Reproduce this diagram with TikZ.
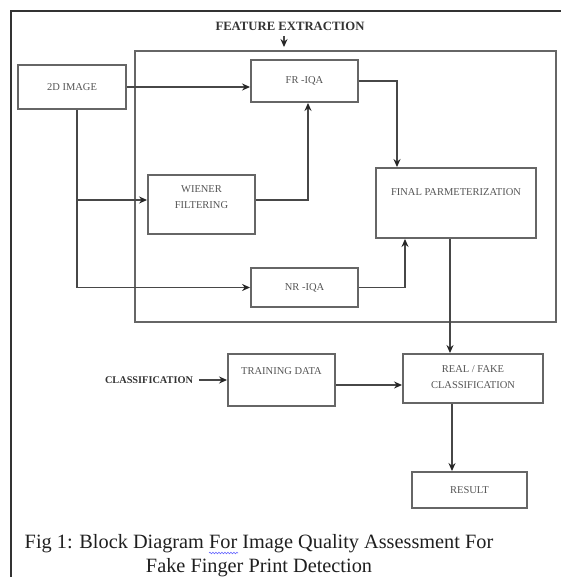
\documentclass[tikz,border=0pt]{standalone}
\usepackage{fontspec}
\setmainfont{Liberation Serif}
\usetikzlibrary{arrows.meta,decorations.pathmorphing}
\definecolor{boxc}{gray}{0.4}
\definecolor{linec}{gray}{0.28}
\definecolor{framec}{gray}{0.2}
\definecolor{txtc}{gray}{0.33}
\definecolor{capc}{gray}{0.12}
\begin{document}
\begin{tikzpicture}[x=1pt,y=-1pt,
  box/.style={draw=boxc, line width=1.9pt, inner sep=0pt, text=txtc,
    font=\fontsize{10.5}{15}\selectfont, align=center},
  lbl/.style={text=txtc, font=\fontsize{10.5}{16}\selectfont, align=center, inner sep=0pt},
  arr/.style={draw=linec, line width=1.7pt, -{Stealth[length=8pt,width=7pt,color=black!85]}},
  ttl/.style={text=framec, font=\bfseries\fontsize{10.3}{12}\selectfont, inner sep=0pt},
]
\useasboundingbox (0,0) rectangle (560,577);
% outer frame
\draw[draw=framec, line width=1.8pt] (10.7,580) -- (10.7,11) -- (562,11);

% boxes
\node[box, minimum width=421pt, minimum height=271pt] (feat) at (345.5,186.5) {};
\node[box, minimum width=108pt, minimum height=44pt] (img) at (72,87) {2D IMAGE};
\node[box, minimum width=107pt, minimum height=42pt] (fr) at (304.5,81) {FR -IQA};
\node[box, minimum width=160pt, minimum height=70pt] (final) at (456,203) {};
\node[lbl] (finaltxt) at (456,192) {FINAL PARMETERIZATION};
\node[box, minimum width=107pt, minimum height=59pt] (wiener) at (201.5,204.5) {};
\node[lbl] (wienertxt) at (201.5,197) {WIENER\\FILTERING};
\node[box, minimum width=107pt, minimum height=39pt] (nr) at (304.5,287.5) {NR -IQA};
\node[box, minimum width=107pt, minimum height=52pt] (train) at (281.5,380) {};
\node[lbl] (traintxt) at (281.5,371) {TRAINING DATA};
\node[box, minimum width=140pt, minimum height=49pt] (real) at (473,378.5) {};
\node[lbl] (realtxt) at (473,377) {REAL / FAKE\\CLASSIFICATION};
\node[box, minimum width=115pt, minimum height=36pt] (result) at (469.5,490) {RESULT};

% titles
\node[ttl, font=\bfseries\fontsize{12.7}{14}\selectfont] (title) at (290,26) {FEATURE EXTRACTION};
\node[ttl] (cls) at (149,380) {CLASSIFICATION};
\coordinate (ta) at (284,36);
\draw[arr] (ta) -- ([yshift=3pt]ta |- feat.north);

% connectors
\draw[arr] (img.east) -- (img.east -| fr.west);
\coordinate (frx) at (397,0);
\draw[arr] (fr.east) -| (frx |- final.north);
\coordinate (vx) at (77,0);
\draw[arr] (vx |- img.south) |- (nr.west);
\coordinate (br) at (77,200);
\draw[arr] (br) -- (br -| wiener.west);
\coordinate (wx) at (308,200);
\draw[arr] (wiener.east |- wx) -- (wx) -- (wx |- fr.south);
\coordinate (nx) at (405,0);
\draw[arr] (nr.east) -| (nx |- final.south);
\coordinate (fx) at (450,0);
\draw[arr] (fx |- final.south) -- (fx |- real.north);
\coordinate (rx) at (452,0);
\draw[arr] (rx |- real.south) -- (rx |- result.north);
\coordinate (ty) at (0,385);
\draw[arr] (train.east |- ty) -- (real.west |- ty);
\draw[arr] ([xshift=6pt]cls.east) -- (cls.east -| train.west);

% caption
\node[text=capc, font=\fontsize{20.3}{24}\selectfont, align=center, inner sep=0pt] (cap) at (259,556)
  {Fig 1: Block Diagram For Image Quality Assessment For\\Fake Finger Print Detection};
\coordinate (wl) at (209,553);
\coordinate (wr) at (238,553);
\draw[draw=blue!60, line width=0.6pt, decorate, decoration={snake, amplitude=0.8pt, segment length=3pt}] (wl) -- (wr);
\end{tikzpicture}
\end{document}
